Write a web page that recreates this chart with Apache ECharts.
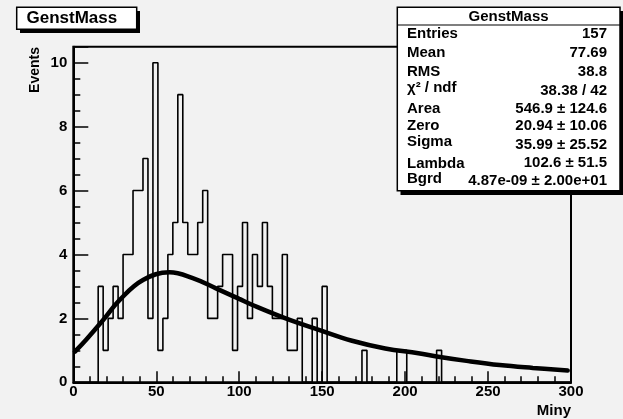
<!DOCTYPE html>
<html>
<head>
<meta charset="utf-8">
<script src="https://cdn.jsdelivr.net/npm/echarts@6/dist/echarts.min.js"></script>
<style>
  html, body { margin: 0; padding: 0; background: #f2f2f2; }
  #chart { width: 623px; height: 419px; }
</style>
</head>
<body>
<div id="chart"></div>
<script>
// Histogram: 100 bins of width 3 over [0, 300]
const binWidth = 3;
const binCounts = [
  0, 0, 0, 0, 0, 3, 1, 2, 3, 2,
  4, 4, 6, 6, 7, 2, 10, 1, 2, 4,
  5, 9, 5, 4, 4, 5, 6, 2, 2, 3,
  4, 4, 1, 3, 5, 2, 4, 3, 5, 3,
  2, 2, 4, 1, 1, 2, 0, 0, 2, 0,
  3, 0, 0, 0, 0, 0, 0, 0, 1, 0,
  0, 0, 0, 0, 0, 1, 1, 0, 0, 0,
  0, 0, 0, 1, 0, 0, 0, 0, 0, 0,
  0, 0, 0, 0, 0, 0, 0, 0, 0, 0,
  0, 0, 0, 0, 0, 0, 0, 0, 0, 0
];

// Fitted function, sampled
const fitX = [1, 8, 18, 28, 42, 58, 72, 86, 100, 108, 128, 148, 168, 188, 208, 220, 237, 257, 277, 298];
const fitY = [0.96, 1.35, 1.95, 2.58, 3.20, 3.44, 3.26, 2.94, 2.61, 2.42, 2.00, 1.64, 1.30, 1.06, 0.91, 0.80, 0.67, 0.54, 0.45, 0.37];

// Axis ticks
const xMin = 0, xMax = 300, xStep = 50;
const yMin = 0, yMax = 10.5, yMajorStep = 2, yMinorStep = 0.5;

// Statistics box
const histName = 'GenstMass';
const statLabels = ['Entries', 'Mean', 'RMS', 'χ² / ndf', 'Area', 'Zero', 'Sigma', 'Lambda', 'Bgrd'];
const statValues = ['157', '77.69', '38.8', '38.38 / 42', '546.9 ± 124.6', '20.94 ± 10.06',
                    '35.99 ± 25.52', '102.6 ± 51.5', '4.87e-09 ± 2.00e+01'];

const FONT = '"Liberation Sans", Arial, Helvetica, sans-serif';

const histData = binCounts.map((c, i) => [i * binWidth, c]);
histData.push([binCounts.length * binWidth, binCounts[binCounts.length - 1]]);
const fitData = fitX.map((x, i) => [x, fitY[i]]);

// Stats box text rows
const labelYs = [35.3, 54.3, 73.3, 89, 110, 127.3, 143.3, 165.3, 180];
const valueYs = [35.3, 54.3, 73.7, 92.3, 110, 127.3, 146.7, 164.7, 182.3];
const statTexts = [];
statLabels.forEach((t, i) => {
  statTexts.push({
    type: 'text', left: 407, top: labelYs[i] - 9, z: 20,
    style: { text: t, font: 'bold 15px ' + FONT, fill: '#000' }
  });
});
statValues.forEach((t, i) => {
  statTexts.push({
    type: 'text', right: 16, top: valueYs[i] - 9, z: 20,
    style: { text: t, font: 'bold 15px ' + FONT, fill: '#000' }
  });
});

const chart = echarts.init(document.getElementById('chart'), null, { renderer: 'canvas' });
chart.setOption({
  backgroundColor: '#f2f2f2',
  animation: false,
  grid: {
    left: 73.3, right: 52, top: 46.7, bottom: 36.7,
    show: true, borderColor: '#000', borderWidth: 2, backgroundColor: 'transparent'
  },
  xAxis: {
    type: 'value', min: xMin, max: xMax, interval: xStep,
    axisLine: { show: true, lineStyle: { color: '#000', width: 2 } },
    axisTick: { show: true, inside: true, length: 11, lineStyle: { color: '#000', width: 1.5 } },
    minorTick: { show: true, splitNumber: 5, length: 6, lineStyle: { color: '#000', width: 1.5 } },
    splitLine: { show: false },
    axisLabel: { color: '#000', fontFamily: FONT, fontWeight: 'bold', fontSize: 15, margin: 2 },
    name: 'Miny', nameLocation: 'end', nameGap: 0,
    nameTextStyle: { color: '#000', fontFamily: FONT, fontWeight: 'bold', fontSize: 15,
                     align: 'right', verticalAlign: 'top', padding: [21, 0, 0, 0] }
  },
  yAxis: [
    {
      type: 'value', min: yMin, max: yMax, interval: yMinorStep, position: 'left',
      axisLine: { show: true, lineStyle: { color: '#000', width: 2 } },
      axisTick: { show: true, inside: true, length: 7, lineStyle: { color: '#000', width: 1.5 } },
      splitLine: { show: false },
      axisLabel: {
        color: '#000', fontFamily: FONT, fontWeight: 'bold', fontSize: 15, margin: 6,
        formatter: v => (Math.abs(v % yMajorStep) < 1e-9 ? String(v) : '')
      }
    },
    {
      type: 'value', min: yMin, max: yMax, interval: yMajorStep, position: 'left',
      axisLine: { show: false },
      axisTick: { show: true, inside: true, length: 15, lineStyle: { color: '#000', width: 1.5 } },
      splitLine: { show: false },
      axisLabel: { show: false }
    }
  ],
  series: [
    {
      name: histName, type: 'line', step: 'end', data: histData,
      xAxisIndex: 0, yAxisIndex: 0, showSymbol: false, symbol: 'none',
      lineStyle: { color: '#000', width: 1.6 }, z: 3
    },
    {
      name: 'fit', type: 'line', smooth: 0.4, data: fitData,
      xAxisIndex: 0, yAxisIndex: 0, showSymbol: false, symbol: 'none',
      lineStyle: { color: '#000', width: 4.5, cap: 'round' }, z: 4
    }
  ],
  graphic: [
    // axis title on the vertical axis
    {
      type: 'text', x: 35, y: 47, rotation: Math.PI / 2, z: 20,
      style: { text: 'Events', font: 'bold 14px ' + FONT, fill: '#000', align: 'right', verticalAlign: 'middle' }
    },
    // histogram title box with shadow
    { type: 'rect', shape: { x: 20, y: 11, width: 120, height: 22 }, style: { fill: '#000' }, z: 10 },
    { type: 'rect', shape: { x: 16.7, y: 7.3, width: 120, height: 22 }, style: { fill: '#fff', stroke: '#000', lineWidth: 1.5 }, z: 11 },
    {
      type: 'text', x: 26.5, y: 18.5, z: 12,
      style: { text: histName, font: 'bold 17px ' + FONT, fill: '#000', verticalAlign: 'middle' }
    },
    // statistics box with shadow
    { type: 'rect', shape: { x: 400.5, y: 11, width: 223, height: 184 }, style: { fill: '#000' }, z: 10 },
    { type: 'rect', shape: { x: 397.3, y: 7.3, width: 222.7, height: 183.4 }, style: { fill: '#fff', stroke: '#000', lineWidth: 1.5 }, z: 11 },
    { type: 'line', shape: { x1: 397.3, y1: 25, x2: 620, y2: 25 }, style: { stroke: '#000', lineWidth: 1.2 }, z: 12 },
    {
      type: 'text', x: 508.6, y: 16.5, z: 20,
      style: { text: histName, font: 'bold 15px ' + FONT, fill: '#000', align: 'center', verticalAlign: 'middle' }
    }
  ].concat(statTexts)
});
</script>
</body>
</html>
